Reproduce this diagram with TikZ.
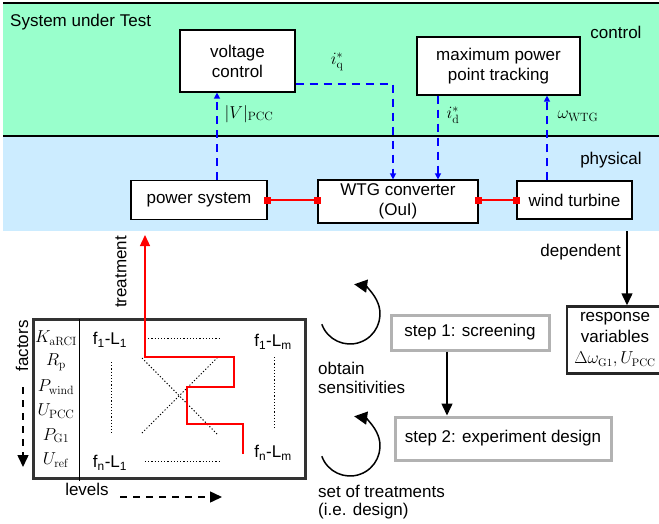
\documentclass[tikz,border=0pt]{standalone}
\usepackage[no-math]{fontspec}
\setmainfont{Liberation Sans}
\usetikzlibrary{arrows.meta}
\definecolor{ctrlgreen}{RGB}{153,255,204}
\definecolor{physblue}{RGB}{204,236,255}
\tikzset{
  blk/.style={draw, fill=white, line width=1.2pt, align=center, inner sep=2pt},
  ctrl/.style={blue, line width=1.3pt, dash pattern=on 8pt off 6pt, -{Triangle[length=6pt,width=6pt]}},
  link/.style={red, line width=1.2pt, {Square[length=7pt,width=7pt]}-{Square[length=7pt,width=7pt]}, shorten <=-3.5pt, shorten >=-3.5pt},
  big/.style={line width=1.5pt, -{Triangle[length=12pt,width=11pt]}},
  stepbox/.style={draw=gray!60, line width=3pt, fill=white, inner sep=2pt},
  dots/.style={line width=1pt, dash pattern=on 1.2pt off 2pt},
}
\begin{document}
\begin{tikzpicture}[x=1pt,y=-1pt,font=\fontsize{17pt}{20pt}\selectfont]
        \useasboundingbox (0,0) rectangle (659,523);

        % system under test
        \fill[ctrlgreen] (3,3) rectangle (659,136);
        \fill[physblue] (3,136) rectangle (659,231);
        \draw[line width=1.5pt] (3,3) -- (659,3);
        \draw[line width=1.5pt] (3,136) -- (659,136);
        \node[anchor=west, inner sep=0] (sut) at (10,22) {System under Test};
        \node[inner sep=0] (lctrl) at (616,32) {control};
        \node[inner sep=0] (lphys) at (611,160) {physical};

        \node[blk, minimum width=115pt, minimum height=62pt] (vc) at (237.5,61) {voltage\\control};
        \node[blk, minimum width=163pt, minimum height=58pt] (mppt) at (498.5,66) {maximum power\\point tracking};
        \node[blk, minimum width=136pt, minimum height=39pt] (ps) at (199,200) {power system};
        \node[blk, minimum width=160pt, minimum height=43pt] (wtg) at (398,201.5) {WTG converter\\(OuI)};
        \node[blk, minimum width=115pt, minimum height=38pt] (wt) at (574.5,200) {wind turbine};

        \coordinate (pv) at (217,0);
        \coordinate (qx) at (393,0);
        \coordinate (dx) at (438,0);
        \coordinate (wx) at (547,0);
        \draw[ctrl] (ps.north -| pv) -- (vc.south -| pv);
        \draw[ctrl] ([yshift=8.5pt]vc.south east) -| (wtg.north -| qx);
        \draw[ctrl] (mppt.south -| dx) -- (wtg.north -| dx);
        \draw[ctrl] (wt.north -| wx) -- (mppt.south -| wx);

        \node (lv) at (249,114) {$|V|_{\mathrm{PCC}}$};
        \node (liq) at (337,62) {$i^*_{\mathrm{q}}$};
        \node (lid) at (453,115) {$i^*_{\mathrm{d}}$};
        \node (lw) at (578,116) {$\omega_{\mathrm{WTG}}$};

        \draw[link] (ps.east) -- (ps.east -| wtg.west);
        \draw[link] (ps.east -| wtg.east) -- (ps.east -| wt.west);

        % response
        \coordinate (dep) at (627,231);
        \node[draw=black!85, line width=2.5pt, fill=white, minimum width=96pt, minimum height=67pt, align=center, inner sep=1pt,
              font=\fontsize{17pt}{21pt}\selectfont] (resp) at (615,340) {response\\variables\\{\fontsize{16pt}{21pt}\selectfont$\Delta\omega_{\mathrm{G1}}, U_{\mathrm{PCC}}$}};
        \node[anchor=east, inner sep=0] (ldep) at (621,252) {dependent};
        \draw[big] (dep) -- (resp.north -| dep);

        % steps
        \node[stepbox, minimum width=158pt, minimum height=35pt] (s1) at (470,332.5) {step 1: screening};
        \node[stepbox, minimum width=216pt, minimum height=43pt] (s2) at (503,438.5) {step 2: experiment design};
        \coordinate (sx) at (447,0);
        \draw[big] (s1.south -| sx) -- (s2.north -| sx);

        \coordinate (c1) at (350,314);
        \coordinate (c2) at (350,446);
        \foreach \c in {c1,c2}{
          \draw[line width=1.5pt, -{Triangle[length=13pt,width=13pt]}] (\c) ++(-200:30) arc[start angle=-200, end angle=-442, radius=30];
        }
        \node[anchor=north west, align=left, inner sep=0, font=\fontsize{17pt}{19pt}\selectfont] (lobt) at (318,362) {obtain\\sensitivities};
        \node[anchor=north west, align=left, inner sep=0, font=\fontsize{17pt}{18pt}\selectfont] (lset) at (318,485) {set of treatments\\(i.e. design)};

        % design table
        \draw[line width=3pt, draw=black!80] (33,319) rectangle (305,478);
        \draw[line width=1pt] (79,319) -- (79,481);
        \foreach \f [count=\i] in {K_{\mathrm{aRCI}}, R_{\mathrm{p}}, P_{\mathrm{wind}}, U_{\mathrm{PCC}}, P_{\mathrm{G1}}, U_{\mathrm{ref}}}{
          \node[inner sep=0] (fac\i) at (56,{338+24.4*(\i-1)}) {$\f$};
        }
        \node (f11) at (110,340) {f\textsubscript{1}-L\textsubscript{1}};
        \node (f1m) at (273,342) {f\textsubscript{1}-L\textsubscript{m}};
        \node (fn1) at (110,463) {f\textsubscript{n}-L\textsubscript{1}};
        \node (fnm) at (273,453) {f\textsubscript{n}-L\textsubscript{m}};

        \draw[dots] (145,338) -- (220,338);
        \draw[dots] (145,461) -- (220,461);
        \draw[dots] (111,362) -- (111,433);
        \draw[dots] (274,357) -- (274,428);
        \draw[dots] (142,358) -- (218,435);
        \draw[dots] (142,433) -- (218,357);

        \coordinate (tr0) at (243,454);
        \coordinate (tr1) at (145,235);
        \draw[red, line width=1.3pt, -{Triangle[length=11pt,width=10pt]}] (tr0) -- (243,424) -- (187,424) -- (187,387) -- (234,387) -- (234,357) -- (145,357) -- (tr1);
        \node[rotate=90, inner sep=0] (ltr) at (121,272) {treatment};

        \node[rotate=90, inner sep=0] (lfac) at (22,346) {factors};
        \coordinate (fa0) at (23,387);
        \coordinate (fa1) at (23,467);
        \draw[big, dash pattern=on 7pt off 6pt] (fa0) -- (fa1);
        \node[inner sep=0] (llev) at (87,489) {levels};
        \coordinate (la0) at (120,497);
        \coordinate (la1) at (222,497);
        \draw[big, dash pattern=on 7pt off 6pt] (la0) -- (la1);
\end{tikzpicture}
\end{document}
